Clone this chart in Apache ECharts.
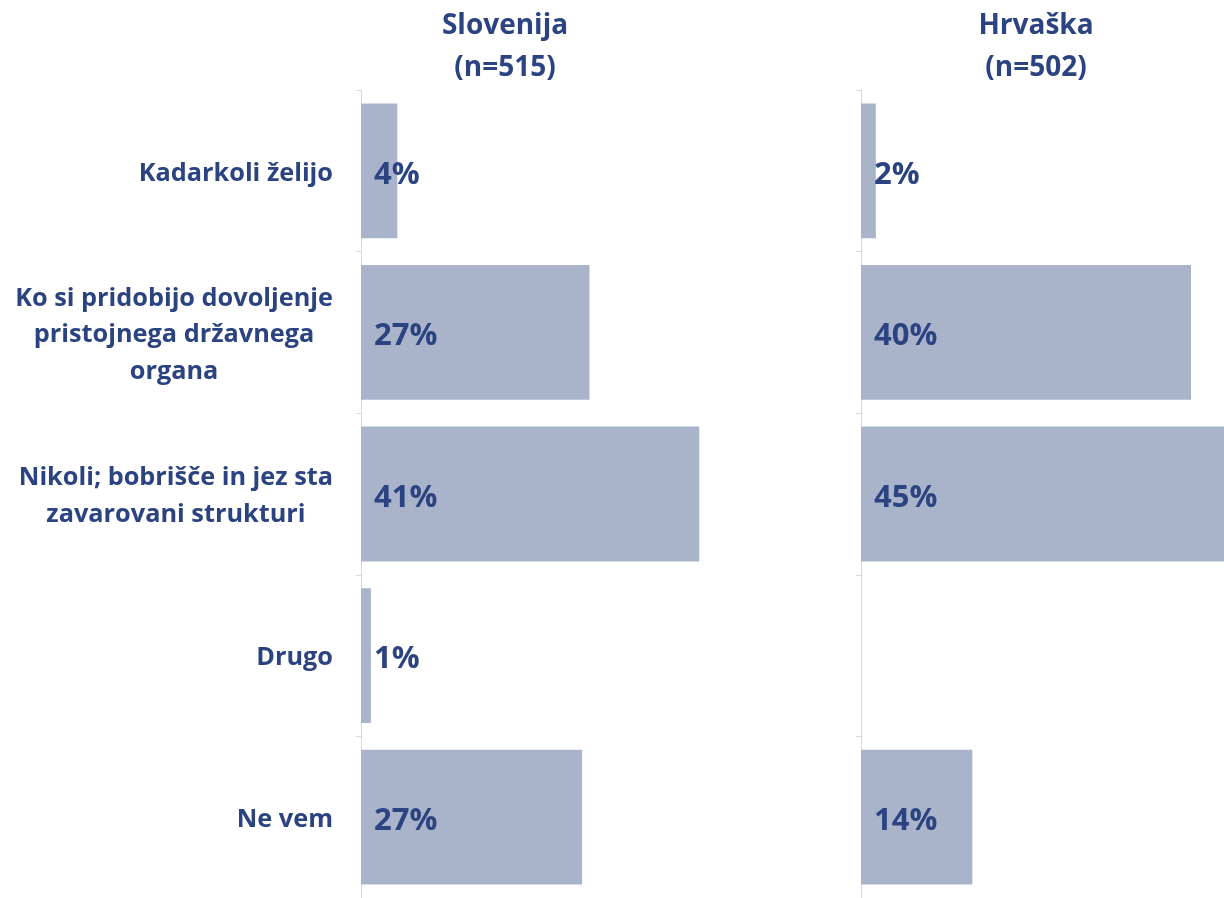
<!DOCTYPE html>
<html><head><meta charset="utf-8">
<script src="https://cdn.jsdelivr.net/npm/echarts@6/dist/echarts.min.js"></script>
<style>html,body{margin:0;padding:0;background:#fff}#c{width:1224px;height:898px}</style>
</head><body><div id="c"></div>
<script>
const categories = ["Kadarkoli želijo", "Ko si pridobijo dovoljenje\npristojnega državnega\norgana", "Nikoli; bobrišče in jez sta\nzavarovani strukturi", "Drugo", "Ne vem"];
const panelTitles = ["Slovenija\n(n=515)", "Hrvaška\n(n=502)"];
const sloValues = [4.4, 27.7, 41.0, 1.2, 26.8];
const sloLabels = ["4%", "27%", "41%", "1%", "27%"];
const hrvValues = [1.8, 40.0, 45.0, 0, 13.5];
const hrvLabels = ["2%", "40%", "45%", "", "14%"];

const DARK = '#2B4380';
const BAR = '#A9B4CB';
const FONT = 'Open Sans';

const chart = echarts.init(document.getElementById('c'));
function catAxis(idx, showLabels) {
  return {
    type: 'category', gridIndex: idx, inverse: true, data: categories,
    axisLine: {show: true, lineStyle: {color: '#D9D9D9', width: 1}},
    axisTick: {show: true, length: 5, lineStyle: {color: '#D9D9D9'}},
    axisLabel: {
      show: showLabels, margin: 28, padding: [5, 0, 0, 0],
      formatter: v => v.split('\n').map(l => '{c|' + l + '}').join('\n'),
      rich: {c: {align: 'center', fontFamily: FONT, fontWeight: 'bold', fontSize: 25.3, color: DARK, lineHeight: 36.5}}
    }
  };
}
function valAxis(idx, max) {
  return {type: 'value', gridIndex: idx, min: 0, max: max, show: false, splitLine: {show: false}};
}
function barSeries(idx, vals, labels) {
  return {
    type: 'bar', xAxisIndex: idx, yAxisIndex: idx, data: vals, barCategoryGap: '16.6%',
    itemStyle: {color: BAR}, clip: false,
    label: {
      show: true, position: 'insideLeft', distance: 12, offset: [1, 4],
      formatter: p => labels[p.dataIndex],
      fontFamily: FONT, fontWeight: 'bold', fontSize: 31, color: DARK
    }
  };
}
const titleStyle = {fontFamily: FONT, fontWeight: 'bold', fontSize: 28, color: DARK, lineHeight: 42};
chart.setOption({
  animation: false,
  title: [
    {text: panelTitles[0], left: 500, top: 0, textAlign: 'center', textStyle: titleStyle},
    {text: panelTitles[1], left: 1031, top: 0, textAlign: 'center', textStyle: titleStyle}
  ],
  grid: [
    {left: 361, top: 90, width: 412.5, height: 811},
    {left: 861, top: 90, width: 363, height: 811}
  ],
  xAxis: [valAxis(0, 50), valAxis(1, 44)],
  yAxis: [catAxis(0, true), catAxis(1, false)],
  series: [barSeries(0, sloValues, sloLabels), barSeries(1, hrvValues, hrvLabels)]
});
</script></body></html>
